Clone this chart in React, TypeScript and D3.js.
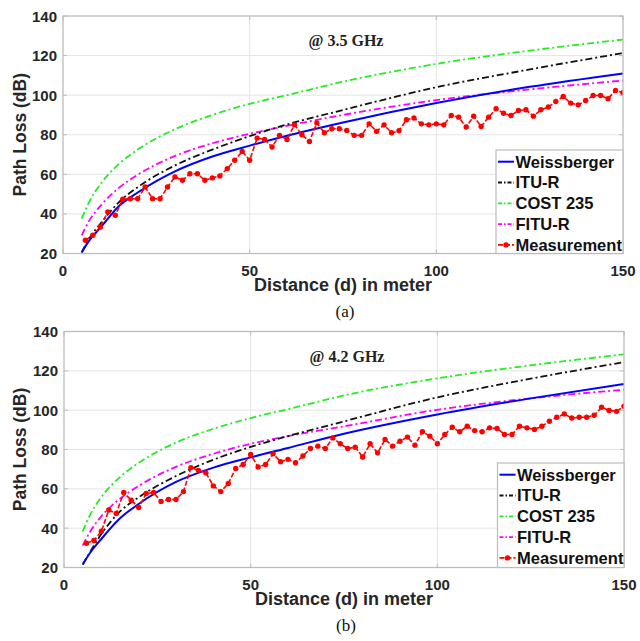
import React from 'react';
import * as d3 from 'd3';

// ---------- data ----------
const xTicks = [0, 50, 100, 150];
const yTicks = [20, 40, 60, 80, 100, 120, 140];

const modelDist = [5, 7, 10, 15, 20, 30, 40, 50, 60, 75, 100, 125, 150];

// (a) @ 3.5 GHz
const weissA = [20.5, 26.5, 33, 44, 50.8, 61.5, 69, 74.5, 79.5, 86.2, 96, 104.2, 111];
const ituA = [20.5, 27.5, 35, 46, 53.5, 64.5, 72.5, 79.3, 85.2, 92.5, 104, 113, 121.3];
const costA = [37.6, 46, 55, 65.3, 72.5, 82.8, 90, 95.6, 100, 106.8, 115.8, 122.5, 128.1];
const fituA = [29.2, 36.5, 44, 53.2, 59.8, 69.3, 75.7, 80.5, 84.5, 90, 97.5, 102.9, 107.4];

// (b) @ 4.2 GHz
const weissB = [21.5, 27.5, 34.5, 45, 52.3, 63.5, 70.8, 76, 80.8, 88, 97.8, 106, 113.3];
const ituB = [21.5, 28, 37, 48.5, 55.7, 66.5, 74.8, 81.3, 86.8, 94.3, 106.5, 116, 124.4];
const costB = [38.4, 46.8, 55.8, 66, 73.2, 83.5, 90.5, 96, 100.5, 107.5, 116.2, 122.8, 128.4];
const fituB = [31.1, 38.2, 46, 55, 61.5, 71.2, 77.8, 82.9, 86.8, 91.8, 100.2, 106, 110.4];

const measDist = [
  6, 8, 10, 12, 14, 16, 18, 20, 22, 24, 26, 28, 30, 32, 34, 36, 38, 40, 42, 44, 46, 48, 50,
  52, 54, 56, 58, 60, 62, 64, 66, 68, 70, 72, 74, 76, 78, 80, 82, 84, 86, 88, 90, 92, 94, 96, 98, 100,
  102, 104, 106, 108, 110, 112, 114, 116, 118, 120, 122, 124, 126, 128, 130, 132, 134, 136, 138, 140, 142, 144, 146, 148, 150,
];
const measA = [
  26.7, 29.2, 33.4, 41, 39.3, 47.4, 47.7, 47.7, 53.6, 47.7, 47.7, 53.6, 58.7, 57, 60.3, 60.3, 57, 58.2, 59.2, 62.9, 67.1, 71.6, 67.1,
  78.3, 77.6, 73.8, 79.7, 77.6, 85, 80, 76.6, 86, 81, 83, 83, 82.2, 79.7, 79.7, 85.5, 81.7, 85, 81, 82, 87.6, 88.5, 85.5, 85, 85.5,
  85, 89.7, 88.9, 83.9, 89.4, 84.2, 88.9, 93.1, 90.9, 89.7, 92.3, 92.6, 89.4, 92.6, 94, 96.8, 99.3, 96, 95.1, 97.3, 99.8, 99.8, 98.2, 102.4, 101.2,
];
const measB = [
  32.3, 33.7, 38.4, 49.2, 47.5, 58.1, 54.2, 50.5, 57.6, 58.1, 53.6, 54.6, 54.6, 58.6, 70.8, 69.4, 68.1, 61.5, 58.6, 62.7, 70.4, 72.4, 77.5,
  71.1, 72.4, 77.8, 73.8, 75, 73.3, 76.7, 80.5, 81.7, 80.5, 85.9, 82.9, 80.5, 81.2, 76.2, 82.9, 78.3, 85.1, 81.7, 84.2, 86.3, 82.2, 89, 86.8, 82.9,
  87.6, 91.3, 89, 91.8, 89.6, 89, 91, 90.7, 87.6, 87.6, 91.8, 91, 90.2, 91.8, 94.4, 96.4, 98.1, 96, 96.4, 96.4, 97.4, 101.5, 99.8, 99.4, 102,
];

const seriesNames = ['Weissberger', 'ITU-R', 'COST 235', 'FITU-R', 'Measurement'];
const seriesColors = ['#0000ff', '#111111', '#22ee22', '#ff00ff', '#ff0000'];

// ---------- drawing ----------
const SANS = '"Liberation Sans", Arial, Helvetica, sans-serif';
const SERIF = '"Liberation Serif", "Times New Roman", serif';
const DASHDOT = '7,3,2,3';

type PanelProps = {
  id: string;
  x0: number; x1: number; y0: number; y1: number;
  models: number[][];
  meas: number[];
  note: string;
  sub: string;
  legendLeft: number;
  legendTop: number;
};

function Panel(p: PanelProps) {
  const x = d3.scaleLinear().domain([0, 150]).range([p.x0, p.x1]);
  const y = d3.scaleLinear().domain([20, 140]).range([p.y1, p.y0]);
  const smooth = d3
    .line<number>()
    .x((_, i) => x(modelDist[i]))
    .y((v) => y(v))
    .curve(d3.curveMonotoneX);
  const straight = d3
    .line<number>()
    .x((_, i) => x(measDist[i]))
    .y((v) => y(v));
  const cx = (p.x0 + p.x1) / 2;
  const cy = (p.y0 + p.y1) / 2;
  const grid = '#e4e4e4';
  const axisCol = '#bcbcbc';
  const lw = p.x1 - p.legendLeft;
  const lh = p.y1 - p.legendTop;
  return (
    <g>
      <defs>
        <clipPath id={'clip' + p.id}>
          <rect x={p.x0} y={p.y0} width={p.x1 - p.x0} height={p.y1 - p.y0} />
        </clipPath>
      </defs>
      <rect x={p.x0} y={p.y0} width={p.x1 - p.x0} height={p.y1 - p.y0} fill="#fff" />
      {xTicks.slice(1, -1).map((t) => (
        <line key={'gx' + t} x1={x(t)} x2={x(t)} y1={p.y0} y2={p.y1} stroke={grid} strokeWidth={1} />
      ))}
      {yTicks.slice(1, -1).map((t) => (
        <line key={'gy' + t} x1={p.x0} x2={p.x1} y1={y(t)} y2={y(t)} stroke={grid} strokeWidth={1} />
      ))}
      {xTicks.map((t) => (
        <g key={'tx' + t}>
          <line x1={x(t)} x2={x(t)} y1={p.y1} y2={p.y1 - 4} stroke={axisCol} />
          <line x1={x(t)} x2={x(t)} y1={p.y0} y2={p.y0 + 4} stroke={axisCol} />
          <text x={x(t)} y={p.y1 + 22} textAnchor="middle" fontFamily={SANS} fontWeight="bold" fontSize={15} fill="#262626">
            {t}
          </text>
        </g>
      ))}
      {yTicks.map((t) => (
        <g key={'ty' + t}>
          <line x1={p.x0} x2={p.x0 + 4} y1={y(t)} y2={y(t)} stroke={axisCol} />
          <line x1={p.x1} x2={p.x1 - 4} y1={y(t)} y2={y(t)} stroke={axisCol} />
          <text x={p.x0 - 6} y={y(t) + 5.5} textAnchor="end" fontFamily={SANS} fontWeight="bold" fontSize={15} fill="#262626">
            {t}
          </text>
        </g>
      ))}
      <g clipPath={`url(#clip${p.id})`}>
        {[2, 3, 1].map((k) => (
          <path key={'m' + k} d={smooth(p.models[k]) || ''} fill="none" stroke={seriesColors[k]} strokeWidth={1.8} strokeDasharray={DASHDOT} />
        ))}
        <path d={smooth(p.models[0]) || ''} fill="none" stroke={seriesColors[0]} strokeWidth={2} />
        <path d={straight(p.meas) || ''} fill="none" stroke={seriesColors[4]} strokeWidth={1.6} strokeDasharray="5,2" />
        {p.meas.map((v, i) => (
          <circle key={'pt' + i} cx={x(measDist[i])} cy={y(v)} r={2.7} fill={seriesColors[4]} />
        ))}
      </g>
      <rect x={p.x0} y={p.y0} width={p.x1 - p.x0} height={p.y1 - p.y0} fill="none" stroke={axisCol} strokeWidth={1.3} />
      <text x={cx + 3} y={p.y0 + 30} textAnchor="middle" fontFamily={SERIF} fontWeight="bold" fontSize={16} fill="#222">
        {p.note}
      </text>
      <rect x={p.legendLeft} y={p.legendTop} width={lw} height={lh} fill="#fff" stroke={axisCol} strokeWidth={1.2} />
      {seriesNames.map((name, i) => {
        const ly = p.legendTop + 11.7 + 20.8 * i;
        const sx0 = p.legendLeft + 2;
        const sx1 = p.legendLeft + 18;
        return (
          <g key={'lg' + i}>
            <line
              x1={sx0}
              x2={sx1}
              y1={ly}
              y2={ly}
              stroke={seriesColors[i]}
              strokeWidth={i === 0 ? 2 : 1.8}
              strokeDasharray={i === 0 ? undefined : i === 4 ? '5,2' : '4,2,1.5,2'}
            />
            {i === 4 && <circle cx={(sx0 + sx1) / 2} cy={ly} r={2.7} fill={seriesColors[4]} />}
            <text x={sx1 + 1.5} y={ly + 5.8} fontFamily={SANS} fontWeight="bold" fontSize={16.5} fill="#111">
              {name}
            </text>
          </g>
        );
      })}
      <text x={cx} y={p.y1 + 37} textAnchor="middle" fontFamily={SANS} fontWeight="bold" fontSize={18} fill="#262626">
        Distance (d) in meter
      </text>
      <text
        transform={`translate(26,${cy}) rotate(-90)`}
        textAnchor="middle"
        fontFamily={SANS}
        fontWeight="bold"
        fontSize={17.5}
        fill="#262626"
      >
        Path Loss (dB)
      </text>
      <text x={cx + 2} y={p.y1 + 63} textAnchor="middle" fontFamily={SERIF} fontSize={17} fill="#111">
        {p.sub}
      </text>
    </g>
  );
}

export default function App() {
  return (
    <svg
      width={640}
      height={641}
      viewBox="0 0 640 641"
      style={{ position: 'absolute', left: 0, top: 0, background: '#fff', display: 'block' }}
    >
      <rect x={0} y={0} width={640} height={641} fill="#fff" />
      <Panel
        id="a"
        x0={63}
        x1={623}
        y0={16}
        y1={253.5}
        models={[weissA, ituA, costA, fituA]}
        meas={measA}
        note="@ 3.5 GHz"
        sub="(a)"
        legendLeft={496}
        legendTop={150}
      />
      <Panel
        id="b"
        x0={64}
        x1={624}
        y0={331.5}
        y1={567.5}
        models={[weissB, ituB, costB, fituB]}
        meas={measB}
        note="@ 4.2 GHz"
        sub="(b)"
        legendLeft={497.5}
        legendTop={463}
      />
    </svg>
  );
}
